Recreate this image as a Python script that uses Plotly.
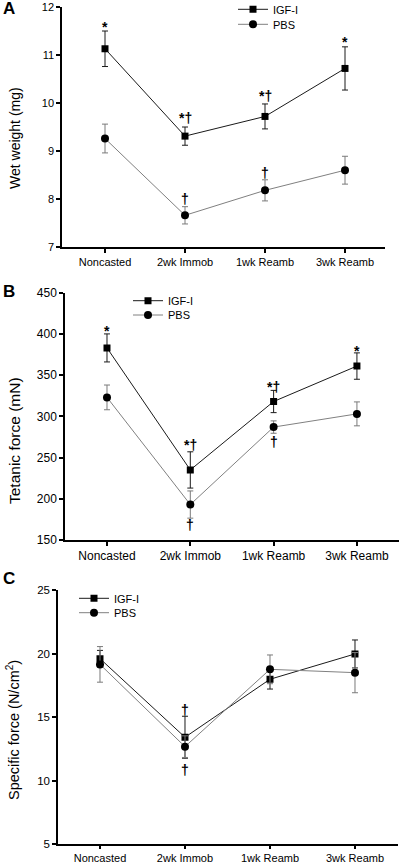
import plotly.graph_objects as go

# ---------------- data ----------------
categories = ["Noncasted", "2wk Immob", "1wk Reamb", "3wk Reamb"]

wet_igf = [11.13, 9.31, 9.72, 10.72]
wet_igf_err = [0.37, 0.19, 0.26, 0.45]
wet_pbs = [9.26, 7.66, 8.18, 8.60]
wet_pbs_err = [0.30, 0.18, 0.22, 0.29]

tet_igf = [383, 235, 318, 361]
tet_igf_err = [17, 22, 13.5, 16]
tet_pbs = [323, 193, 287, 303]
tet_pbs_err = [15, 16.5, 7.5, 14.5]

spec_igf = [19.60, 13.42, 17.98, 19.97]
spec_igf_err = [0.65, 1.65, 0.77, 1.10]
spec_pbs = [19.15, 12.68, 18.76, 18.50]
spec_pbs_err = [1.40, 0.85, 1.13, 1.58]

# significance marks (category, value, text)
wet_sig = [("Noncasted", 11.59, "*"), ("2wk Immob", 9.68, "*†"), ("1wk Reamb", 10.15, "*†"),
           ("3wk Reamb", 11.27, "*"), ("2wk Immob", 7.99, "†"), ("1wk Reamb", 8.55, "†")]
tet_sig = [("Noncasted", 403, "*"), ("2wk Immob", 264.7, "*†"), ("1wk Reamb", 336, "*†"),
           ("3wk Reamb", 379, "*"), ("2wk Immob", 168.2, "†"), ("1wk Reamb", 269.3, "†")]
spec_sig = [("2wk Immob", 15.56, "†"), ("2wk Immob", 10.84, "†")]

W, H = 400, 863
FONT = "Arial, Liberation Sans, Helvetica, sans-serif"


def fy(p):
    return 1 - p / H


panels = [
    dict(igf=wet_igf, igf_e=wet_igf_err, pbs=wet_pbs, pbs_e=wet_pbs_err, sig=wet_sig,
         xd=[62 / W, 385 / W], yd=[fy(247), fy(7)], xr=[-0.5375, 3.5], yr=[7, 12], dt=1,
         tick=11, xtick=11, xlen=4, title="Wet weight (mg)", tsize=14, tpos=(15, 138),
         letter="A", lpos=(9, 9), leg=(233, 9.3, 24.3)),
    dict(igf=tet_igf, igf_e=tet_igf_err, pbs=tet_pbs, pbs_e=tet_pbs_err, sig=tet_sig,
         xd=[65 / W, 399 / W], yd=[fy(540), fy(292.7)], xr=[-0.504, 3.505], yr=[150, 450], dt=50,
         tick=12, xtick=12, xlen=4, title="Tetanic force (mN)", tsize=15.5, tpos=(15, 441),
         letter="B", lpos=(9, 291), leg=(128, 300.7, 315)),
    dict(igf=spec_igf, igf_e=spec_igf_err, pbs=spec_pbs, pbs_e=spec_pbs_err, sig=spec_sig,
         xd=[58 / W, 398 / W], yd=[fy(844.3), fy(590)], xr=[-0.494, 3.506], yr=[5, 25], dt=5,
         tick=11.5, xtick=11, xlen=3, title="Specific force (N/cm<sup>2</sup>)", tsize=14.5,
         tpos=(13, 730), letter="C", lpos=(9, 578), leg=(74, 598.3, 612.7)),
]

fig = go.Figure()
annotations = []
layout = {}
leg_idx = 0

for i, p in enumerate(panels):
    n = "" if i == 0 else str(i + 1)
    xa, ya = "x" + n, "y" + n
    for name, vals, errs, sym, lcol, ecol, msize, ly in [
        ("IGF-I", p["igf"], p["igf_e"], "square", "#1a1a1a", "#1a1a1a", 7, p["leg"][1]),
        ("PBS", p["pbs"], p["pbs_e"], "circle", "#808080", "#7a7a7a", 8, p["leg"][2]),
    ]:
        leg_idx += 1
        lname = "legend" if leg_idx == 1 else "legend%d" % leg_idx
        fig.add_trace(go.Scatter(
            x=categories, y=vals, name=name, mode="lines+markers",
            line=dict(color=lcol, width=1),
            marker=dict(symbol=sym, size=msize, color="black"),
            error_y=dict(type="data", array=errs, color=ecol, thickness=1, width=3),
            xaxis=xa, yaxis=ya, legend=lname, showlegend=True,
        ))
        layout[lname] = dict(x=p["leg"][0] / W, y=fy(ly), xanchor="left", yanchor="middle",
                             bgcolor="rgba(0,0,0,0)", borderwidth=0,
                             font=dict(family=FONT, size=11, color="black"))
    axis_common = dict(showline=True, linecolor="black", linewidth=1.5, ticks="outside",
                       tickwidth=1.5, tickcolor="black", showgrid=False, zeroline=False,
                       automargin=False, fixedrange=True)
    layout["xaxis" + n] = dict(axis_common, domain=p["xd"], range=p["xr"], anchor=ya,
                               ticklen=p["xlen"],
                               tickfont=dict(family=FONT, size=p["xtick"], color="black"),
                               type="category", categoryorder="array", categoryarray=categories)
    layout["yaxis" + n] = dict(axis_common, domain=p["yd"], range=p["yr"], anchor=xa,
                               ticklen=4,
                               tickfont=dict(family=FONT, size=p["tick"], color="black"),
                               tickmode="linear", tick0=p["yr"][0], dtick=p["dt"])
    for cat, val, txt in p["sig"]:
        annotations.append(dict(x=cat, y=val, xref=xa, yref=ya, text="<b>%s</b>" % txt,
                                showarrow=False, xanchor="center", yanchor="middle",
                                font=dict(family=FONT, size=14, color="black")))
    annotations.append(dict(x=p["tpos"][0] / W, y=fy(p["tpos"][1]), xref="paper", yref="paper",
                            text=p["title"], textangle=-90, showarrow=False,
                            xanchor="center", yanchor="middle",
                            font=dict(family=FONT, size=p["tsize"], color="black")))
    annotations.append(dict(x=p["lpos"][0] / W, y=fy(p["lpos"][1]), xref="paper", yref="paper",
                            text="<b>%s</b>" % p["letter"], showarrow=False,
                            xanchor="center", yanchor="middle",
                            font=dict(family=FONT, size=17, color="black")))

fig.update_layout(
    template="none",
    width=W, height=H, margin=dict(l=0, r=0, t=0, b=0, pad=0, autoexpand=False),
    paper_bgcolor="white", plot_bgcolor="white",
    annotations=annotations, **layout,
)

fig.write_html(
    "out.html",
    config={"displayModeBar": False},
    post_script="document.body.style.margin='0';document.body.style.overflow='hidden';",
)
